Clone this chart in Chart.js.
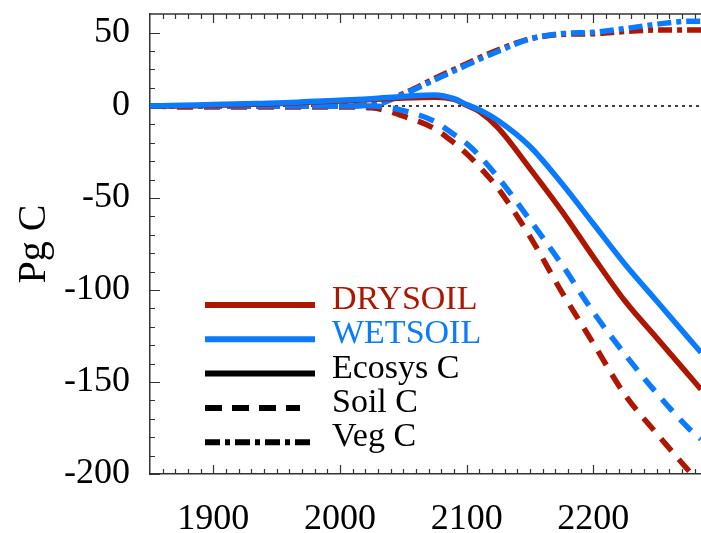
<!DOCTYPE html>
<html>
<head>
<meta charset="utf-8">
<script src="https://cdn.jsdelivr.net/npm/chart.js@4/dist/chart.umd.min.js"></script>
<style>
  html, body { margin: 0; padding: 0; background: #fff; overflow: hidden; }
  canvas { display: block; }
</style>
</head>
<body>
<canvas id="carbonChart" width="701" height="533"></canvas>
<script>
// years shared by every series
const years = [1850, 1875, 1900, 1925, 1950, 1975, 2000, 2025, 2050, 2075, 2090,
  2100, 2110, 2125, 2150, 2175, 2200, 2225, 2250, 2275, 2285];

// Pg C
const dryEcosys = [0, 0, 0.5, 1, 1.5, 2.5, 3.5, 4.5, 5.5, 6, 4.5,
  0.5, -3, -12, -34, -57, -82, -106, -126, -146, -154];
const wetEcosys = [0, 0.5, 1, 1.5, 2, 3, 4, 5, 6.5, 7.5, 5,
  1, -2, -8, -22, -42, -64, -86, -106, -126, -134];
const drySoil = [0, -0.5, -0.5, -0.5, -0.5, -0.5, -0.5, -1, -5.5, -12.5, -20,
  -26, -33, -45, -71, -101, -129, -157, -178, -198, -206];
const wetSoil = [0, 0, 0, 0, 0, 0, 0, 0, -2.5, -8.5, -15.5,
  -20.5, -27, -39, -62, -86, -112, -135, -156, -175, -181];
const dryVeg = [0, 0, 0, 0, 0, 0, 0, 1, 8.5, 19, 25,
  29, 33, 38.5, 46, 49, 49.5, 51, 52, 52, 52];
const wetVeg = [0, 0, 0, 0, 0, 0, 0, 0.5, 8, 18, 24,
  28, 32, 37.5, 46, 49.5, 50.5, 53, 56, 58, 58];

const xTicks = [1900, 2000, 2100, 2200];
const yTicks = [-200, -150, -100, -50, 0, 50];

const legendLabels = ["DRYSOIL", "WETSOIL", "Ecosys C", "Soil C", "Veg C"];

const RED = "#ad1600";
const BLUE = "#0a7aff";
const SERIF = '"Liberation Serif", "DejaVu Serif", serif';

// the y axis of the original is stretched differently above and below zero
const Y_SPLIT = 0.8; // share of the height below zero

class SplitScale extends Chart.LinearScale {
  static id = "split";
  getPixelForValue(value) {
    if (value === null || isNaN(value)) return NaN;
    let d;
    if (value <= 0) d = (Y_SPLIT * (value - this.min)) / (0 - this.min);
    else d = Y_SPLIT + ((1 - Y_SPLIT) * value) / this.max;
    return this.getPixelForDecimal(d);
  }
  getValueForPixel(pixel) {
    const d = this.getDecimalForPixel(pixel);
    if (d <= Y_SPLIT) return this.min + (d / Y_SPLIT) * (0 - this.min);
    return ((d - Y_SPLIT) / (1 - Y_SPLIT)) * this.max;
  }
}
Chart.register(SplitScale);

function pts(vals) {
  return vals.map((v, i) => ({ x: years[i], y: v }));
}

function line(vals, color, dash) {
  return {
    data: pts(vals),
    borderColor: color,
    borderWidth: 5.5,
    borderDash: dash,
    borderCapStyle: "butt",
    pointRadius: 0,
    fill: false,
    cubicInterpolationMode: "monotone",
  };
}

function noPad(s) {
  s.paddingTop = 0;
  s.paddingBottom = 0;
  s.paddingLeft = 0;
  s.paddingRight = 0;
}

// axis frame, inward ticks, zero line
const frame = {
  id: "frame",
  beforeDatasetsDraw(chart) {
    const { ctx, chartArea: a, scales } = chart;
    const x = scales.x, y = scales.y;
    ctx.save();
    ctx.strokeStyle = "#000";
    ctx.lineWidth = 1.3;
    ctx.setLineDash([3, 4]);
    const y0 = y.getPixelForValue(0);
    ctx.beginPath();
    ctx.moveTo(a.left, y0);
    ctx.lineTo(a.right, y0);
    ctx.stroke();
    ctx.setLineDash([]);

    ctx.strokeStyle = "#333";
    ctx.lineWidth = 1.5;
    ctx.beginPath();
    ctx.moveTo(a.left, a.top);
    ctx.lineTo(a.right, a.top);
    ctx.stroke();

    ctx.lineWidth = 1.2;
    ctx.beginPath();
    for (let yr = 1860; yr <= x.max; yr += 10) {
      const px = Math.round(x.getPixelForValue(yr)) + 0.5;
      const len = yr % 100 === 0 ? 9 : 5;
      ctx.moveTo(px, a.bottom);
      ctx.lineTo(px, a.bottom - len);
      ctx.moveTo(px, a.top);
      ctx.lineTo(px, a.top + len);
    }
    const yMinor = [];
    for (let v = -190; v < 0; v += 10) yMinor.push(v);
    yMinor.push(12.5, 25, 37.5);
    yMinor.forEach((v) => {
      const py = Math.round(y.getPixelForValue(v)) + 0.5;
      ctx.moveTo(a.left, py);
      ctx.lineTo(a.left + 5, py);
    });
    yTicks.forEach((v) => {
      const py = Math.round(y.getPixelForValue(v)) + 0.5;
      ctx.moveTo(a.left, py);
      ctx.lineTo(a.left + 10, py);
    });
    ctx.stroke();
    ctx.restore();
  },
  afterDraw(chart) {
    const { ctx, chartArea: a } = chart;
    const colors = [RED, BLUE, "#000", "#000", "#000"];
    const dashes = [[], [], [], [17, 10], [15, 5, 5, 5]];
    const ends = [165, 165, 165, 150, 160];
    ctx.save();
    ctx.font = "34px " + SERIF;
    ctx.textBaseline = "alphabetic";
    legendLabels.forEach((lab, i) => {
      const ly = a.top + 291 + i * 34.3;
      ctx.strokeStyle = colors[i];
      ctx.lineWidth = 6;
      ctx.lineCap = "butt";
      ctx.setLineDash(dashes[i]);
      ctx.beginPath();
      ctx.moveTo(a.left + 55, ly);
      ctx.lineTo(a.left + ends[i], ly);
      ctx.stroke();
      ctx.fillStyle = colors[i];
      ctx.fillText(lab, a.left + 182, ly + 4);
    });
    ctx.restore();
  },
};

const carbonChart = new Chart(document.getElementById("carbonChart").getContext("2d"), {
  type: "line",
  data: {
    datasets: [
      line(wetEcosys, BLUE, []),
      line(dryEcosys, RED, []),
      line(wetSoil, BLUE, [16, 11]),
      line(drySoil, RED, [16, 11]),
      line(wetVeg, BLUE, [14, 5, 5, 5]),
      line(dryVeg, RED, [14, 5, 5, 5]),
    ],
  },
  options: {
    responsive: false,
    animation: false,
    devicePixelRatio: 1,
    layout: { padding: { top: 14, right: 0, left: 0, bottom: 0 } },
    plugins: { legend: { display: false }, tooltip: { enabled: false } },
    scales: {
      x: {
        type: "linear",
        min: 1850,
        max: 2285,
        afterBuildTicks: (s) => { s.ticks = xTicks.map((v) => ({ value: v })); },
        afterFit: (s) => { s.height = 59; noPad(s); },
        grid: { display: false },
        border: { display: true, color: "#333", width: 1.5 },
        ticks: {
          color: "#000",
          padding: 16,
          maxRotation: 0,
          font: { family: SERIF, size: 36 },
          callback: (v) => String(v),
        },
      },
      y: {
        type: "split",
        min: -200,
        max: 63,
        afterBuildTicks: (s) => { s.ticks = yTicks.map((v) => ({ value: v })); },
        afterFit: (s) => { s.width = 150; noPad(s); },
        grid: { display: false },
        border: { display: true, color: "#333", width: 1.5 },
        ticks: {
          color: "#000",
          padding: 12,
          font: { family: SERIF, size: 36 },
          callback: (v) => String(v),
        },
        title: {
          display: true,
          text: "Pg C",
          color: "#000",
          padding: { top: 10, bottom: 0 },
          font: { family: SERIF, size: 40 },
        },
      },
    },
  },
  plugins: [frame],
});
</script>
</body>
</html>
